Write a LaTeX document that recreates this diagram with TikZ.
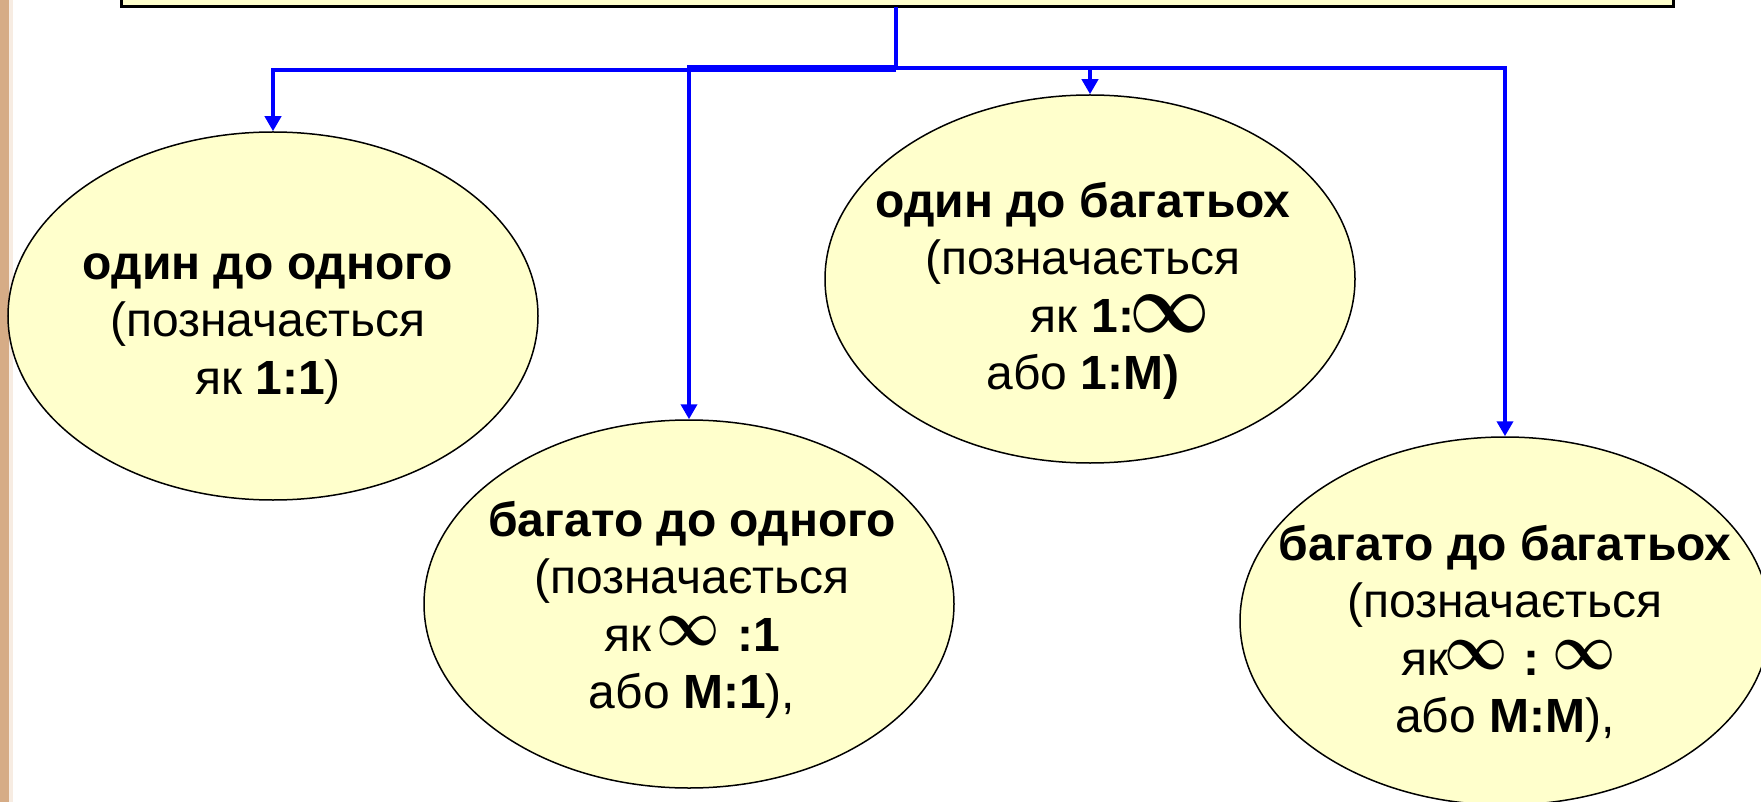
\RequirePackage{fix-cm}
\documentclass[tikz,border=0pt]{standalone}
\usepackage{fontspec}
\setmainfont{Liberation Sans}
\usetikzlibrary{arrows.meta,shapes.geometric,calc}
\definecolor{ellfill}{HTML}{FFFFCC}
\definecolor{stripcol}{HTML}{D6AC86}
\definecolor{stripedge}{HTML}{F7ECE2}
\definecolor{arrblue}{HTML}{0000FF}
\newcommand{\inff}{\makebox[48pt]{\raisebox{6pt}{\scalebox{0.95}[1.12]{\fontsize{58}{58}\selectfont\boldmath$\infty$}}}}
\newcommand{\infbig}{\makebox[62pt]{\scalebox{1}[1.2]{\fontsize{70}{70}\selectfont\boldmath$\infty$}}}
\begin{document}
\begin{tikzpicture}[x=1pt,y=-1pt,
  ell/.style={ellipse, draw=black, line width=1.5pt, fill=ellfill,
    minimum width=530pt, minimum height=368pt, inner sep=0pt},
  lbl/.style={align=center, font=\fontsize{48}{57.5}\selectfont, inner sep=0pt},
  conn/.style={draw=arrblue, line width=4pt},
  arr/.style={conn, -{Triangle[width=16pt,length=15pt]}},
  topbox/.style={draw=black, line width=3pt, fill=ellfill, inner sep=0pt,
    outer sep=0pt, minimum width=1552pt, minimum height=100pt}
]
\useasboundingbox (0,0) rectangle (1761,802);
\fill[white] (0,0) rectangle (1761,802);
\fill[stripcol] (0,0) rectangle (9,802);
\fill[stripedge] (9,0) rectangle (13,802);

\node[topbox, anchor=south west] (top) at (121,7) {};

\node[ell] (e1) at (273,316) {};
\node[ell] (e2) at (689,604) {};
\node[ell] (e3) at (1090,279) {};
\node[ell] (e4) at (1505,621) {};

\coordinate (j) at (896,68);
\draw[conn] (top.south -| j) -- (j);
\draw[arr] ($(j)+(0,2)$) -| (e1.north);
\draw[arr] ($(j)+(0,-1)$) -| (e2.north);
\draw[arr] (j) -| (e3.north);
\draw[arr] (j) -| (e4.north);

\node[lbl] (t1) at (268,329) {\textbf{один до одного}\\(позначається\\як \textbf{1:1})};
\node[lbl] (t2) at (692,610) {\textbf{багато до одного}\\(позначається\\як\hspace{13pt}\inff\hspace{25pt}\textbf{:1}\\або \textbf{M:1}),};
\node[lbl] (t3) at (1083,291) {\textbf{один до багатьох}\\(позначається\\\hspace*{66pt}як \textbf{1:}\hspace{5pt}\infbig\\або \textbf{1:M)}};
\node[lbl] (t4) at (1505,634) {\textbf{багато до багатьох}\\(позначається\\як\hspace{4pt}\inff\hspace{23pt}\textbf{:}\hspace{21pt}\inff\\або \textbf{M:M}),};
\end{tikzpicture}
\end{document}
